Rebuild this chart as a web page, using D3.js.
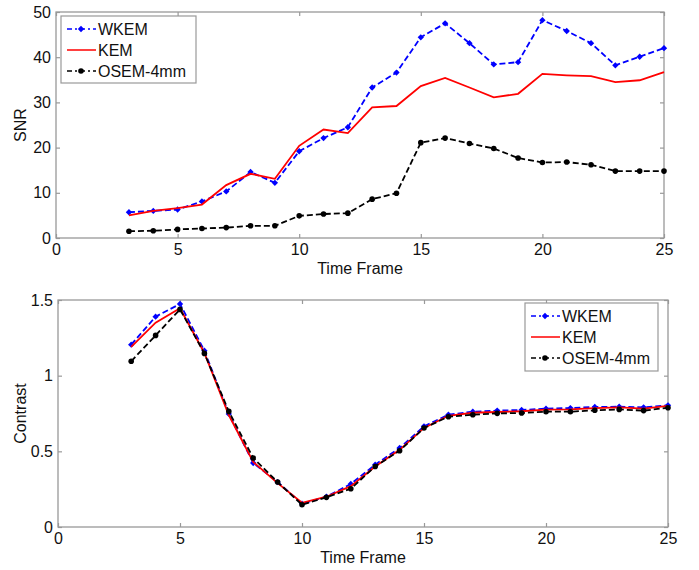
<!DOCTYPE html>
<html>
<head>
<meta charset="utf-8">
<script src="https://cdn.jsdelivr.net/npm/d3@7"></script>
<style>
  body { margin: 0; background: #fff; }
  svg text { font-family: "Liberation Sans", Arial, sans-serif; fill: #111; }
</style>
</head>
<body>
<div id="graf"></div>
<script>
// Data
const frames = [3, 4, 5, 6, 7, 8, 9, 10, 11, 12, 13, 14, 15, 16, 17, 18, 19, 20, 21, 22, 23, 24, 25]

const snrWKEM = [5.7, 6.0, 6.3, 8.1, 10.3, 14.6, 12.2, 19.2, 22.1, 24.5, 33.3, 36.6, 44.4, 47.5, 43.1, 38.4, 38.9, 48.2, 45.8, 43.1, 38.2, 40.1, 42.0]
const snrKEM = [5.0, 6.0, 6.6, 7.4, 11.7, 14.2, 13.1, 20.4, 24.0, 23.2, 28.9, 29.2, 33.6, 35.4, 33.3, 31.1, 31.9, 36.3, 36.0, 35.8, 34.5, 34.9, 36.7]
const snrOSEM = [1.5, 1.6, 1.9, 2.1, 2.3, 2.7, 2.7, 4.9, 5.3, 5.5, 8.6, 9.9, 21.1, 22.1, 20.9, 19.8, 17.7, 16.7, 16.8, 16.2, 14.8, 14.8, 14.8]

const conWKEM = [1.205, 1.39, 1.474, 1.165, 0.747, 0.423, 0.297, 0.154, 0.2, 0.284, 0.412, 0.522, 0.665, 0.742, 0.762, 0.769, 0.773, 0.782, 0.786, 0.793, 0.795, 0.791, 0.804]
const conKEM = [1.19, 1.35, 1.445, 1.15, 0.74, 0.43, 0.29, 0.16, 0.2, 0.27, 0.4, 0.51, 0.655, 0.735, 0.755, 0.76, 0.765, 0.775, 0.777, 0.785, 0.79, 0.782, 0.8]
const conOSEM = [1.095, 1.266, 1.438, 1.147, 0.764, 0.456, 0.297, 0.147, 0.196, 0.253, 0.4, 0.504, 0.654, 0.729, 0.742, 0.751, 0.753, 0.762, 0.762, 0.771, 0.777, 0.769, 0.788]

const xTicks = [0, 5, 10, 15, 20, 25]
const snrTicks = [0, 10, 20, 30, 40, 50]
const conTicks = [0, 0.5, 1, 1.5]
const seriesNames = ["WKEM", "KEM", "OSEM-4mm"]

const svg = d3.select("#graf")
  .append("svg")
  .attr("width", 699)
  .attr("height", 570)

const estilos = {
  WKEM: { color: "#0000ff", dash: "6,3", marker: "diamond" },
  KEM: { color: "#ff0000", dash: null, marker: null },
  "OSEM-4mm": { color: "#000000", dash: "6,3", marker: "circle" },
}

const drawMarker = (g, tipo, px, py, color) => {
  if (tipo === "diamond") {
    g.append("path")
      .attr("d", d3.symbol(d3.symbolSquare, 20)())
      .attr("transform", `translate(${px},${py}) rotate(45)`)
      .attr("fill", color)
  } else if (tipo === "circle") {
    g.append("circle")
      .attr("cx", px).attr("cy", py).attr("r", 2.8)
      .attr("fill", color)
  }
}

const panel = (cfg) => {
  const { left, top, right, bottom, yDomain, yTicks, yLabel, series, legend, yFmt } = cfg

  const x = d3.scaleLinear().domain([0, 25]).range([left, right])
  const y = d3.scaleLinear().domain(yDomain).range([bottom, top])

  const g = svg.append("g")

  // Ejes
  g.append("g")
    .attr("transform", `translate(0, ${bottom})`)
    .call(d3.axisBottom(x).tickValues(xTicks).tickSize(-4).tickPadding(6))
  g.append("g")
    .attr("transform", `translate(${left}, 0)`)
    .call(d3.axisLeft(y).tickValues(yTicks).tickSize(-4).tickPadding(5).tickFormat(yFmt))
  g.append("g")
    .attr("transform", `translate(0, ${top})`)
    .call(d3.axisTop(x).tickValues(xTicks).tickSize(-4).tickFormat(""))
  g.append("g")
    .attr("transform", `translate(${right}, 0)`)
    .call(d3.axisRight(y).tickValues(yTicks).tickSize(-4).tickFormat(""))

  g.selectAll(".domain").remove()
  g.selectAll(".tick line").attr("stroke", "#999").attr("stroke-width", 1.2)
  g.selectAll(".tick text").style("font-size", "16px").attr("fill", "#111")

  g.append("rect")
    .attr("x", left).attr("y", top)
    .attr("width", right - left).attr("height", bottom - top)
    .attr("fill", "none")
    .attr("stroke", "#999")
    .attr("stroke-width", 1.3)

  g.append("text")
    .attr("x", (left + right) / 2)
    .attr("y", bottom + 36)
    .attr("text-anchor", "middle")
    .style("font-size", "16px")
    .text("Time Frame")

  g.append("text")
    .attr("transform", `translate(26, ${(top + bottom) / 2}) rotate(-90)`)
    .attr("text-anchor", "middle")
    .style("font-size", "16px")
    .text(yLabel)

  // Lineas
  const linea = d3.line().x((d) => x(d[0])).y((d) => y(d[1]))
  series.forEach((vals, i) => {
    const est = estilos[seriesNames[i]]
    const pts = frames.map((f, j) => [f, vals[j]])
    const gs = g.append("g")
    gs.append("path")
      .attr("d", linea(pts))
      .attr("fill", "none")
      .attr("stroke", est.color)
      .attr("stroke-width", 1.8)
      .attr("stroke-dasharray", est.dash)
    pts.forEach((p) => drawMarker(gs, est.marker, x(p[0]), y(p[1]), est.color))
  })

  // Leyenda
  const lg = g.append("g")
  lg.append("rect")
    .attr("x", legend.x).attr("y", legend.y)
    .attr("width", legend.w).attr("height", legend.h)
    .attr("fill", "#fff")
    .attr("stroke", "#999")
    .attr("stroke-width", 1.2)
  seriesNames.forEach((name, i) => {
    const est = estilos[name]
    const ly = legend.y + 13 + i * 21
    lg.append("line")
      .attr("x1", legend.x + 6).attr("x2", legend.x + 35)
      .attr("y1", ly).attr("y2", ly)
      .attr("stroke", est.color)
      .attr("stroke-width", 1.5)
      .attr("stroke-dasharray", est.dash ? "5,3,2,3" : null)
    drawMarker(lg, est.marker, legend.x + 20, ly, est.color)
    lg.append("text")
      .attr("x", legend.x + 37)
      .attr("y", ly)
      .attr("dy", "0.35em")
      .style("font-size", "16px")
      .text(name)
  })
}

panel({
  left: 56, top: 12, right: 664, bottom: 238,
  yDomain: [0, 50], yTicks: snrTicks, yLabel: "SNR",
  yFmt: d3.format("d"),
  series: [snrWKEM, snrKEM, snrOSEM],
  legend: { x: 61, y: 16, w: 135, h: 67 },
})

panel({
  left: 58, top: 300, right: 668, bottom: 527,
  yDomain: [0, 1.5], yTicks: conTicks, yLabel: "Contrast",
  yFmt: (d) => String(d),
  series: [conWKEM, conKEM, conOSEM],
  legend: { x: 525, y: 303, w: 133, h: 68 },
})
</script>
</body>
</html>
